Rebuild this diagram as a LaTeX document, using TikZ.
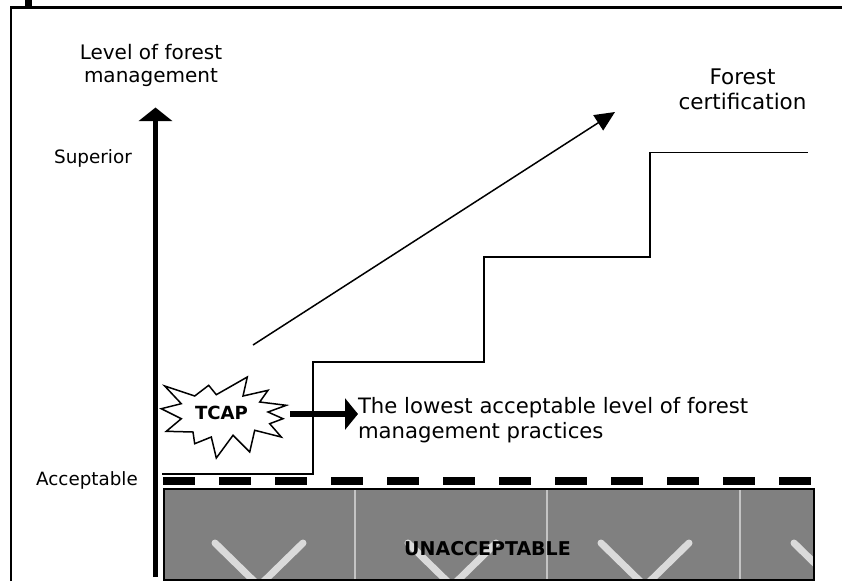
\documentclass[tikz,border=0pt]{standalone}
\usepackage{fontspec}
\setmainfont{DejaVu Sans}
\usetikzlibrary{arrows.meta}
\definecolor{boxgray}{RGB}{128,128,128}
\definecolor{seamgray}{RGB}{196,196,196}
\definecolor{vgray}{RGB}{218,218,218}
\tikzset{
  lbl/.style={inner sep=0pt, outer sep=0pt},
  steplinestyle/.style={line width=1.5pt, line join=miter},
}
\begin{document}
\begin{tikzpicture}[x=1pt,y=-1pt]
\useasboundingbox (0,0) rectangle (842,581);
% frame
\fill (25,0) rectangle (32,6);
\draw[line width=2.6pt] (11,581) -- (11,7.3) -- (842,7.3);
% unacceptable box
\begin{scope}
  \clip (163,488) rectangle (813,579);
  \fill[boxgray] (163,488) rectangle (813,579);
  \foreach \cx in {259,452,645,838} {
    \draw[vgray, line width=7pt, line cap=round, line join=round]
      (\cx-44,543) -- (\cx,586) -- (\cx+44,543);
  }
  \foreach \sx in {355,547,740} {
    \draw[seamgray, line width=2.2pt] (\sx,488) -- (\sx,579);
  }
\end{scope}
\node[draw, line width=1.5pt, minimum width=650pt, minimum height=91pt, inner sep=0pt, anchor=north west] (unacc) at (163,488) {};
\node[lbl, font=\bfseries\fontsize{19}{23}\selectfont, anchor=base] (unacctxt) at (487.5,555) {UNACCEPTABLE};
% dashed acceptable line
\coordinate (dashL) at (163,481);
\coordinate (dashR) at (811,481);
\draw[line width=7.7pt, dash pattern=on 32pt off 24pt] (dashL) -- (dashR);
% steps
\coordinate (s0) at (162,474);
\coordinate (s1) at (313,474);
\coordinate (s2) at (313,362);
\coordinate (s3) at (484,362);
\coordinate (s4) at (484,257);
\coordinate (s5) at (650,257);
\coordinate (s6) at (650,152.5);
\coordinate (s7) at (808,152.5);
\draw[steplinestyle] (s0) -- (s1) -- (s2) -- (s3) -- (s4) -- (s5) -- (s6) -- (s7);
% axis
\coordinate (axisB) at (155.5,577);
\coordinate (axisT) at (155.5,107.5);
\draw[line width=5.5pt, -{Triangle[length=13.5pt,width=33pt]}] (axisB) -- (axisT);
% labels
\node[lbl, font=\fontsize{20}{23}\selectfont, align=center, anchor=north] (ylabel) at (151,44.8) {Level of forest\\management};
\node[lbl, font=\fontsize{18.4}{22}\selectfont, anchor=base] (sup) at (93,163) {Superior};
\node[lbl, font=\fontsize{18.3}{22}\selectfont, anchor=base] (acc) at (87,485) {Acceptable};
\node[lbl, font=\fontsize{21.5}{25}\selectfont, align=center, anchor=north] (cert) at (742.5,69.3) {Forest\\certification};
% diagonal arrow
\coordinate (diagA) at (253,345);
\coordinate (diagB) at (615,112);
\draw[line width=1.5pt, -{Triangle[length=20pt,width=18pt]}] (diagA) -- (diagB);
% star
\draw[line width=1.5pt, fill=white, line join=miter]
  (164.7,386) -- (194.7,396) -- (208.7,385.3) -- (216.3,394.7) -- (247.3,377) -- (243,396)
  -- (268,390.3) -- (259.7,402) -- (286.3,405.3) -- (268,412) -- (283,418.7) -- (269.7,423.7)
  -- (281.3,437) -- (254.7,430.3) -- (249.7,452) -- (233,435.3) -- (216.3,458) -- (211.3,437)
  -- (194.7,443.7) -- (193,432) -- (166.3,431.3) -- (181.3,418.7) -- (161.3,408.7) -- (181.3,403.7) -- cycle;
\node[lbl, font=\bfseries\fontsize{18.1}{22}\selectfont, anchor=base] (tcap) at (221.5,419) {TCAP};
\coordinate (starE) at (290,414);
% lowest acceptable text
\node[lbl, font=\fontsize{21.2}{25}\selectfont, align=left, anchor=north west] (lowest) at (358,396.9) {The lowest acceptable level of forest\\management practices};
\draw[line width=6pt, -{Triangle[length=13pt,width=31pt]}] (starE) -- (starE -| lowest.west);
\end{tikzpicture}
\end{document}
